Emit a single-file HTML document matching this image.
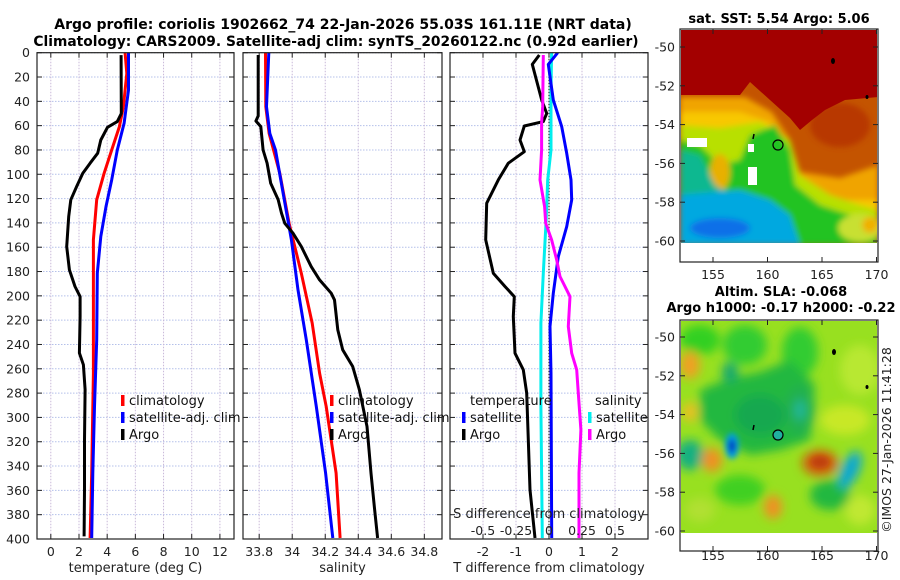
<!DOCTYPE html>
<html><head><meta charset="utf-8">
<style>
html,body{margin:0;padding:0;background:#fff;}
svg{display:block;font-family:"DejaVu Sans","Liberation Sans",sans-serif;}
</style></head>
<body>
<svg id="fig" width="900" height="580" viewBox="0 0 900 580" xmlns="http://www.w3.org/2000/svg">
<defs>
<filter id="blur3" x="-20%" y="-20%" width="140%" height="140%"><feGaussianBlur stdDeviation="3"/></filter>
<filter id="blur6" x="-30%" y="-30%" width="160%" height="160%"><feGaussianBlur stdDeviation="5"/></filter>
<clipPath id="clipTop"><rect x="681" y="30" width="196" height="213"/></clipPath>
<clipPath id="clipBot"><rect x="681" y="321" width="196" height="212"/></clipPath>
<clipPath id="cp1"><rect x="37" y="52.7" width="197" height="486.3"/></clipPath>
<clipPath id="cp2"><rect x="243" y="52.7" width="199" height="486.3"/></clipPath>
<clipPath id="cp3"><rect x="450" y="52.7" width="198" height="486.3"/></clipPath>
</defs>
<g id="titles">
<text x="343" y="29" text-anchor="middle" font-size="14" font-weight="bold">Argo profile: coriolis 1902662_74 22-Jan-2026 55.03S 161.11E (NRT data)</text>
<text x="336" y="46" text-anchor="middle" font-size="13.8" font-weight="bold">Climatology: CARS2009. Satellite-adj clim: synTS_20260122.nc (0.92d earlier)</text>
<text x="779" y="23" text-anchor="middle" font-size="13" font-weight="bold">sat. SST: 5.54 Argo: 5.06</text>
<text x="781" y="296" text-anchor="middle" font-size="13" font-weight="bold">Altim. SLA: -0.068</text>
<text x="781" y="312" text-anchor="middle" font-size="13" font-weight="bold">Argo h1000: -0.17 h2000: -0.22</text>
<text transform="translate(891,440) rotate(-90)" text-anchor="middle" font-size="12.5" fill="#222">©IMOS 27-Jan-2026 11:41:28</text>
</g>
<g id="plots"></g>
<g id="maps"></g>
</svg>
<script>
// ---- depth-profile data (m) ----
const argoTDepth = [2,50,56.7,61.4,71.8,82.7,90.9,99.2,110,121,134.8,159.5,178.6,192.3,200.6,217,247,256.7,277,318.4,359.6,397.9];
const argoTemp  = [4.99,5.0,4.72,4.02,3.55,3.33,2.79,2.27,1.84,1.42,1.27,1.13,1.32,1.72,2.08,2.08,2.03,2.31,2.43,2.39,2.39,2.36];
const climTDepth = [0,17,44.4,60.8,80,99.2,121,153.9,195.1,263.6,345.8,399.2];
const climTemp  = [5.27,5.39,5.15,4.87,4.32,3.78,3.26,3.02,3.02,3.02,2.9,2.79];
const satTDepth = [0,30.7,58.1,80,104.6,126.6,151.2,181.4,236.2,291,345.8,399.2];
const satTemp   = [5.51,5.51,5.2,4.72,4.32,3.92,3.55,3.3,3.26,3.1,2.98,2.9];

const argoSDepth = [1.9,52,56.2,60.8,80,90.9,107.4,121,132,140.3,148.5,159.4,175.9,186.9,197.8,203.3,228,244.4,258.1,277.3,307.4,345.8,373.2,399.2];
const argoSal   = [33.794,33.794,33.780,33.810,33.824,33.848,33.870,33.915,33.935,33.955,34.005,34.055,34.115,34.166,34.236,34.256,34.276,34.306,34.366,34.407,34.453,34.477,34.497,34.517];
const climSDepth = [0,44.4,66.3,99.2,140.3,181.4,222.5,263.6,291,345.8,399.2];
const climSal   = [33.838,33.840,33.860,33.925,33.981,34.055,34.121,34.166,34.206,34.266,34.290];
const satSDepth = [0,44.4,66.3,80,112.8,153.9,195.1,236.2,291,345.8,399.2];
const satSal    = [33.858,33.844,33.864,33.899,33.941,33.995,34.035,34.085,34.146,34.202,34.246];

// ---- difference panel ----
const argoDTDepth = [1.9,9.6,38.9,49.9,56.7,60.3,71.8,81.4,90.9,104.6,123.8,153.9,181.4,192.3,200.6,217,247.2,260.8,280,318.4,359.5,399.2];
const argoDT  = [-0.293,-0.505,-0.222,-0.071,-0.172,-0.747,-0.879,-0.747,-1.232,-1.535,-1.889,-1.919,-1.687,-1.333,-1.051,-1.081,-1.030,-0.778,-0.677,-0.626,-0.576,-0.424];
const satDTDepth = [0,9.6,38.9,60.8,82.7,104.6,121.1,143,167.7,197.8,225.2,263.6,399.2];
const satDT   = [0.263,-0.02,0.131,0.384,0.535,0.667,0.687,0.535,0.283,0.131,0.030,0.061,0.081];
const satDSDepth = [0,30.7,80,104.6,140.3,181.4,222.5,291,399.2];
const satDS   = [0.020,0.015,0.015,-0.010,-0.023,-0.043,-0.061,-0.061,-0.051];
const argoDSDepth = [1.9,44.4,58.1,80,104.6,126.6,140.3,153.9,170.4,184.1,200.6,225.2,247.2,260.8,280,310.2,345.8,399.2];
const argoDS  = [-0.043,-0.048,-0.056,-0.056,-0.068,-0.033,-0.025,0.020,0.058,0.083,0.159,0.146,0.172,0.210,0.222,0.242,0.227,0.227];

const depthTicks = [0,20,40,60,80,100,120,140,160,180,200,220,240,260,280,300,320,340,360,380,400];
const tempTicks = [0,2,4,6,8,10,12];
const salTicks = [33.8,34,34.2,34.4,34.6,34.8];
const salTickLabels = ["33.8","34","34.2","34.4","34.6","34.8"];
const dTTicks = [-2,-1,0,1,2];
const dSTicks = [-0.5,-0.25,0,0.25,0.5];
const dSTickLabels = ["-0.5","-0.25","0","0.25","0.5"];

const NS="http://www.w3.org/2000/svg";
function mk(tag, attrs, parent){const e=document.createElementNS(NS,tag);for(const k in attrs)e.setAttribute(k,attrs[k]);parent.appendChild(e);return e;}
const TOP=52.7, BOT=539;
function yD(d){return TOP+(d/400)*(BOT-TOP);}
function lin(d0,d1,r0,r1){return v=>r0+(v-d0)/(d1-d0)*(r1-r0);}
const plots=document.getElementById('plots');

const panels=[
 {name:'temperature-panel',x0:37,x1:234,sx:lin(-0.98,13.0,37,234),ticks:tempTicks,labels:tempTicks.map(String),xlabel:'temperature (deg C)',clip:'cp1'},
 {name:'salinity-panel',x0:243,x1:442,sx:lin(33.702,34.907,243,442),ticks:salTicks,labels:salTickLabels,xlabel:'salinity',clip:'cp2'},
 {name:'difference-panel',x0:450,x1:648,sx:lin(-3,3,450,648),ticks:dTTicks,labels:dTTicks.map(String),xlabel:'T difference from climatology',clip:'cp3'}
];

panels.forEach((p,i)=>{
  const g=mk('g',{},plots);
  
  
  depthTicks.forEach(d=>{
    const l=mk('line',{x1:p.x0,x2:p.x1,y1:yD(d),y2:yD(d),stroke:'#b4c0ea','stroke-width':1,'stroke-dasharray':'1.5,1.5'},g);
    
    
  });
  p.ticks.forEach((t,k)=>{
    const x=p.sx(t);
    const l=mk('line',{x1:x,x2:x,y1:TOP,y2:BOT,stroke:'#c8b8d8','stroke-width':1,'stroke-dasharray':'1.5,1.5'},g);
    
    
    mk('line',{x1:x,x2:x,y1:BOT,y2:BOT-5,stroke:'#222'},g);
    mk('line',{x1:x,x2:x,y1:TOP,y2:TOP+5,stroke:'#222'},g);
    const tx=mk('text',{x:x,y:556,'text-anchor':'middle','font-size':12.5,fill:'#222'},g);
    tx.textContent=p.labels[k];
    
    
  });
  depthTicks.forEach(d=>{
    mk('line',{x1:p.x0,x2:p.x0+5,y1:yD(d),y2:yD(d),stroke:'#222'},g);
    mk('line',{x1:p.x1,x2:p.x1-5,y1:yD(d),y2:yD(d),stroke:'#222'},g);
    if(i===0){
      const tx=mk('text',{x:30,y:yD(d)+4.5,'text-anchor':'end','font-size':12.5,fill:'#222'},g);
      tx.textContent=String(d);
      
      
    }
  });
  const xl=mk('text',{x:(p.x0+p.x1)/2,y:572,'text-anchor':'middle','font-size':13,fill:'#222'},g);
  xl.textContent=p.xlabel;
  
  
  p.g=g;
});

function line(p,vals,depths,color,name,sx){
  const f=sx||p.sx;
  const pts=vals.map((v,k)=>f(v).toFixed(1)+','+yD(depths[k]).toFixed(1)).join(' ');
  const pl=mk('polyline',{points:pts,fill:'none',stroke:color,'stroke-width':3,'stroke-linejoin':'round','clip-path':'url(#'+p.clip+')'},p.g);
  
  
}
line(panels[0],climTemp,climTDepth,'#ff0000','climatology-temp-line');
line(panels[0],satTemp,satTDepth,'#0000ff','satellite-temp-line');
line(panels[0],argoTemp,argoTDepth,'#000000','argo-temp-line');
line(panels[1],climSal,climSDepth,'#ff0000','climatology-sal-line');
line(panels[1],satSal,satSDepth,'#0000ff','satellite-sal-line');
line(panels[1],argoSal,argoSDepth,'#000000','argo-sal-line');
const p3=panels[2];
const sS=v=>p3.sx(v*4);
const zl=mk('line',{x1:p3.sx(0),x2:p3.sx(0),y1:TOP,y2:BOT,stroke:'#333','stroke-width':1.2,'stroke-dasharray':'1.5,1.5'},p3.g);


line(p3,argoDT,argoDTDepth,'#000000','argo-temp-diff-line');
line(p3,satDS,satDSDepth,'#00eeee','satellite-sal-diff-line',sS);
line(p3,satDT,satDTDepth,'#0000ff','satellite-temp-diff-line');
line(p3,argoDS,argoDSDepth,'#ff00ff','argo-sal-diff-line',sS);
const sl=mk('text',{x:549,y:518,'text-anchor':'middle','font-size':13,fill:'#222'},p3.g);
sl.textContent='S difference from climatology';


dSTicks.forEach((t,k)=>{
  const tx=mk('text',{x:sS(t),y:535,'text-anchor':'middle','font-size':12.5,fill:'#222'},p3.g);
  tx.textContent=dSTickLabels[k];
  
  
});
panels.forEach(p=>{mk('rect',{x:p.x0,y:TOP,width:p.x1-p.x0,height:BOT-TOP,fill:'none',stroke:'#222','stroke-width':1.2},p.g);});

function legend(parent,x,y,color,label,name){
  const g=mk('g',{},parent);
  
  
  mk('rect',{x:x,y:y-10,width:3.5,height:11,fill:color},g);
  const t=mk('text',{x:x+8,y:y,'font-size':13,fill:'#111'},g);
  t.textContent=label;
}
legend(panels[0].g,121,405,'#ff0000','climatology','legend-climatology');
legend(panels[0].g,121,422,'#0000ff','satellite-adj. clim','legend-satellite-adj');
legend(panels[0].g,121,439,'#000000','Argo','legend-argo');
legend(panels[1].g,330,405,'#ff0000','climatology','legend-climatology');
legend(panels[1].g,330,422,'#0000ff','satellite-adj. clim','legend-satellite-adj');
legend(panels[1].g,330,439,'#000000','Argo','legend-argo');
const lt=mk('text',{x:470,y:405,'font-size':13,fill:'#111'},p3.g);lt.textContent='temperature';


legend(p3.g,462,422,'#0000ff','satellite','legend-temp-satellite');
legend(p3.g,462,439,'#000000','Argo','legend-temp-argo');
const ls=mk('text',{x:595,y:405,'font-size':13,fill:'#111'},p3.g);ls.textContent='salinity';


legend(p3.g,588,422,'#00eeee','satellite','legend-sal-satellite');
legend(p3.g,588,439,'#ff00ff','Argo','legend-sal-argo');

// ---- maps ----
const mapLats=[-50,-52,-54,-56,-58,-60];
const mapLons=[155,160,165,170];
const maps=document.getElementById('maps');
function mapAxes(name,yTop,yBot,lat50,lat60,lonLabelY){
  const g=mk('g',{},maps);
  
  
  const ly=lin(-50,-60,lat50,lat60), lx=lin(155,170,713,876.5);
  mapLats.forEach(l=>{
    const y=ly(l);
    mk('line',{x1:680,x2:685,y1:y,y2:y,stroke:'#222'},g);
    mk('line',{x1:878,x2:873,y1:y,y2:y,stroke:'#222'},g);
    const t=mk('text',{x:675,y:y+4.5,'text-anchor':'end','font-size':12.5,fill:'#222'},g);
    t.textContent=String(l);
    
    
  });
  mapLons.forEach(l=>{
    const x=lx(l);
    mk('line',{x1:x,x2:x,y1:yBot,y2:yBot-5,stroke:'#222'},g);
    mk('line',{x1:x,x2:x,y1:yTop,y2:yTop+5,stroke:'#222'},g);
    const t=mk('text',{x:x,y:lonLabelY,'text-anchor':'middle','font-size':12.5,fill:'#222'},g);
    t.textContent=String(l);
    
    
  });
  mk('rect',{x:680,y:yTop,width:198,height:yBot-yTop,fill:'none',stroke:'#222','stroke-width':1.2},g);
}
const sst=mk('g',{'clip-path':'url(#clipTop)'},maps);


sst.innerHTML=`
<rect x="680" y="29" width="200" height="215" fill="#c45400"/>
<g filter="url(#blur3)">
<polygon points="680,97 745,97 772,112 790,140 800,172 840,178 878,165 878,245 680,245" fill="#f0a400"/>
<polygon points="680,112 740,112 770,122 790,150 795,185 820,200 878,200 878,245 680,245" fill="#f8c800"/>
<polygon points="680,125 720,128 760,122 790,140 800,175 830,195 860,205 878,210 878,245 680,245" fill="#b8e000"/>
<polygon points="680,140 700,145 720,165 740,160 750,135 775,125 790,150 795,185 820,205 850,215 878,218 878,245 680,245" fill="#22c322"/>
<ellipse cx="860" cy="228" rx="22" ry="14" fill="#c8e030"/>
<ellipse cx="870" cy="225" rx="8" ry="8" fill="#f0b000"/>
<ellipse cx="720" cy="172" rx="10" ry="18" fill="#e8b000"/>
<polygon points="680,150 700,155 715,185 730,195 680,200" fill="#10b890"/>
<polygon points="680,195 740,190 770,200 790,215 800,245 680,245" fill="#00a8e0"/>
<ellipse cx="720" cy="228" rx="30" ry="10" fill="#1070e8"/>
<ellipse cx="840" cy="125" rx="30" ry="22" fill="#b83800"/>
</g>
<polygon points="680,29 878,29 878,97 845,100 825,110 812,120 800,130 790,118 770,100 750,82 740,95 680,95" fill="#a30000"/>
<rect x="680" y="243" width="200" height="22" fill="#fff"/>
<rect x="687" y="138" width="20" height="9" fill="#fff"/><rect x="748" y="167" width="9" height="18" fill="#fff"/><rect x="748" y="144" width="6" height="8" fill="#fff"/>
<ellipse cx="833" cy="61" rx="2" ry="3" fill="#000"/><ellipse cx="867" cy="97" rx="1.5" ry="2" fill="#000"/>
<path d="M754,134 L753,139" stroke="#000" stroke-width="1.5"/>
<circle cx="778" cy="145" r="5" fill="none" stroke="#000" stroke-width="1.2"/>`;
mapAxes('sst-map',29,262,47,241,279);
const sla=mk('g',{'clip-path':'url(#clipBot)'},maps);


sla.innerHTML=`
<rect x="680" y="320" width="200" height="215" fill="#98e020"/>
<g filter="url(#blur6)">
<ellipse cx="700" cy="340" rx="20" ry="15" fill="#30d020"/>
<ellipse cx="745" cy="345" rx="22" ry="20" fill="#30cc30"/>
<ellipse cx="800" cy="352" rx="18" ry="25" fill="#30cc30"/>
<ellipse cx="860" cy="370" rx="20" ry="25" fill="#b8e830"/>
<ellipse cx="845" cy="420" rx="25" ry="15" fill="#c8e828"/>
<polygon points="700,390 730,378 760,372 790,360 815,385 810,440 780,450 750,455 720,440 700,420" fill="#20b840"/>
<ellipse cx="800" cy="410" rx="15" ry="25" fill="#20b050"/>
<ellipse cx="760" cy="415" rx="25" ry="20" fill="#18a850"/>
<ellipse cx="690" cy="455" rx="14" ry="15" fill="#18b080"/>
<ellipse cx="830" cy="495" rx="20" ry="15" fill="#20b840"/>
<ellipse cx="740" cy="490" rx="25" ry="15" fill="#40d020"/>
<ellipse cx="860" cy="510" rx="15" ry="15" fill="#c0e830"/>
<ellipse cx="700" cy="510" rx="15" ry="12" fill="#b0e030"/>
<ellipse cx="690" cy="365" rx="10" ry="14" fill="#f0a020"/>
<ellipse cx="690" cy="412" rx="8" ry="10" fill="#e8c020"/>
<ellipse cx="712" cy="460" rx="10" ry="12" fill="#f09020"/>
<ellipse cx="820" cy="463" rx="18" ry="13" fill="#d06010"/>
<ellipse cx="773" cy="507" rx="9" ry="12" fill="#f09020"/>
<ellipse cx="850" cy="470" rx="9" ry="20" fill="#10a8d0" transform="rotate(25 850 470)"/>
<ellipse cx="730" cy="372" rx="8" ry="10" fill="#18a870"/>
<ellipse cx="800" cy="410" rx="5" ry="10" fill="#20b8a0"/>
</g>
<g filter="url(#blur3)">
<ellipse cx="732" cy="446" rx="7" ry="13" fill="#00a0e0"/>
<ellipse cx="732" cy="446" rx="3.5" ry="7" fill="#0030c0"/>
<ellipse cx="820" cy="462" rx="9" ry="6" fill="#c04010"/>
</g>
<rect x="680" y="533" width="200" height="20" fill="#fff"/>
<ellipse cx="834" cy="352" rx="2" ry="3" fill="#000"/><ellipse cx="867" cy="387" rx="1.5" ry="2" fill="#000"/>
<path d="M754,425 L753,430" stroke="#000" stroke-width="1.5"/>
<circle cx="778" cy="435" r="5" fill="#20b0a0" stroke="#000" stroke-width="1.2"/>`;
mapAxes('sla-map',320,551,337,531,560);
</script>
</body></html>
